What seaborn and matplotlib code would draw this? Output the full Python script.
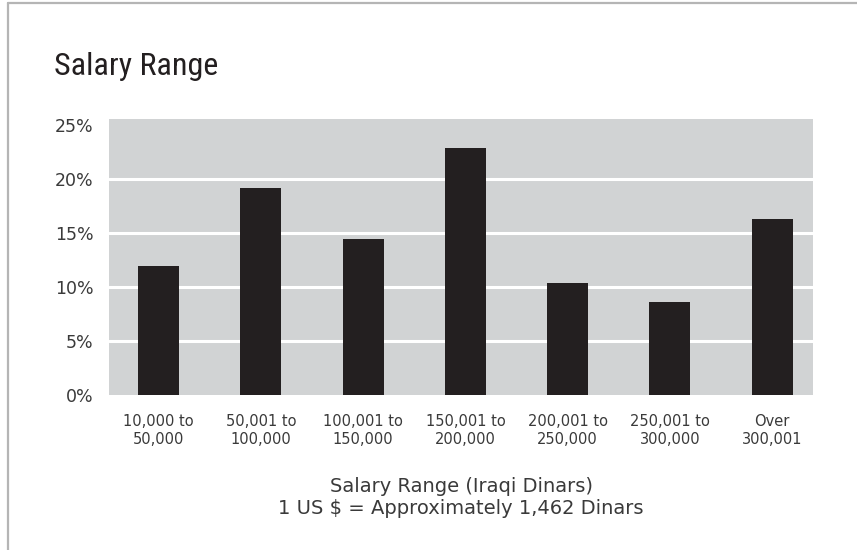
import matplotlib
matplotlib.use('Agg')
import matplotlib.pyplot as plt
from matplotlib.lines import Line2D
import seaborn as sns
import pandas as pd

# values (percent of respondents)
salary_ranges = ['10,000 to\n50,000', '50,001 to\n100,000', '100,001 to\n150,000',
                 '150,001 to\n200,000', '200,001 to\n250,000', '250,001 to\n300,000',
                 'Over\n300,001']
shares = [12.0, 19.2, 14.5, 22.9, 10.4, 8.65, 16.3]
y_ticks = [0, 5, 10, 15, 20, 25]
y_tick_labels = ['0%', '5%', '10%', '15%', '20%', '25%']

df = pd.DataFrame({'range': salary_ranges, 'share': shares})

sns.set_style('white')
plt.rcParams['font.family'] = ['DejaVu Sans']

fig = plt.figure(figsize=(8.57, 5.5), dpi=100)
ax = fig.add_axes([0.1272, 0.2818, 0.8215, 0.5018])
ax.set_facecolor('#d1d3d4')

sns.barplot(data=df, x='range', y='share', color='#231f20', saturation=1,
            width=0.4, ax=ax, zorder=3, edgecolor='#231f20', linewidth=0)

ax.set_xlim(-0.486, 6.40)
ax.set_ylim(0, 25.6)
ax.set_yticks(y_ticks)
ax.set_yticklabels(y_tick_labels)
ax.yaxis.grid(True, color='white', linewidth=2.2)
ax.get_ygridlines()[0].set_visible(False)
ax.get_ygridlines()[-1].set_visible(False)
ax.set_axisbelow(True)
for s in ax.spines.values():
    s.set_visible(False)

ax.tick_params(axis='y', length=0, pad=11, labelsize=12.5, labelcolor='#3a3a3a')
ax.tick_params(axis='x', length=0, pad=14, labelsize=10.5, labelcolor='#3a3a3a')
for lbl in ax.get_xticklabels():
    lbl.set_linespacing(1.25)

ax.set_ylabel('')
ax.set_xlabel('Salary Range (Iraqi Dinars)\n1 US $ = Approximately 1,462 Dinars',
              fontsize=14, color='#3a3a3a', labelpad=21, linespacing=1.25)

fig.text(0.063, 0.8636, 'Salary Range', fontsize=23, color='#231f20',
         va='baseline', ha='left',
         family=['Roboto Condensed', 'Liberation Sans Narrow', 'DejaVu Sans'])

# frame lines of the original panel
fig.add_artist(Line2D([8 / 857, 8 / 857], [0, 1 - 3 / 550], transform=fig.transFigure,
                      color='#b5b5b5', linewidth=1.6))
fig.add_artist(Line2D([8 / 857, 1], [1 - 3 / 550, 1 - 3 / 550], transform=fig.transFigure,
                      color='#b5b5b5', linewidth=1.6))

fig.savefig('out.png', dpi=100)
